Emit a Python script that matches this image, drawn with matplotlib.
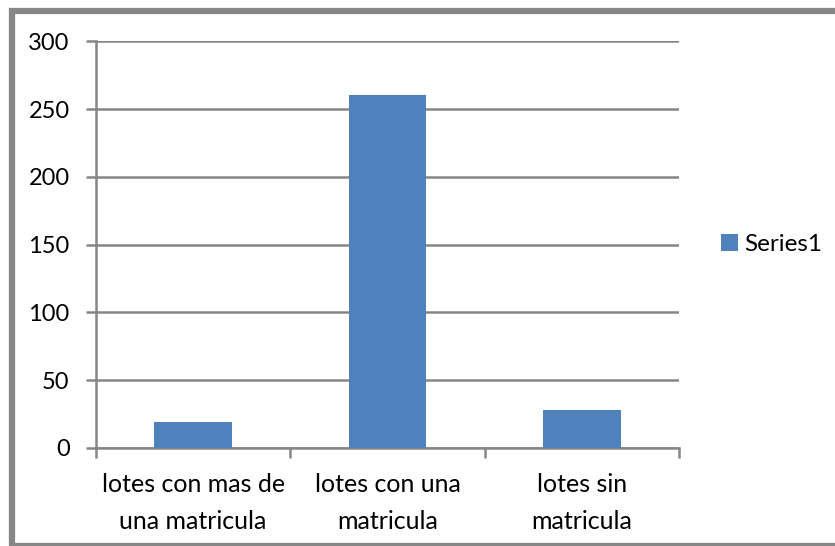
import matplotlib.pyplot as plt
from matplotlib.patches import Rectangle

categories = ["lotes con mas de\nuna matricula", "lotes con una\nmatricula", "lotes sin\nmatricula"]
values = [19, 260, 28]
series_name = "Series1"
yticks = [0, 50, 100, 150, 200, 250, 300]

plt.rcParams['font.family'] = ['Lato', 'DejaVu Sans']
grey = "#868686"
bar_color = "#4f81bd"

fig = plt.figure(figsize=(8.35, 5.46), dpi=100)
ax = fig.add_axes([0.115, 0.1795, 0.698, 0.745])

x = range(len(categories))
ax.bar(x, values, width=0.4, color=bar_color, label=series_name, zorder=3)

ax.set_xlim(-0.5, len(categories) - 0.5)
ax.set_ylim(0, 300)
ax.set_yticks(yticks)
ax.yaxis.grid(True, color=grey, linewidth=1.8, zorder=0)

ax.set_xticks(list(x))
ax.set_xticklabels(categories, fontsize=18, linespacing=1.75)
ax.set_xticks([i - 0.5 for i in range(len(categories) + 1)], minor=True)
ax.tick_params(axis='x', which='major', length=0, pad=18)
ax.tick_params(axis='x', which='minor', length=7, width=1.8, color=grey)
ax.tick_params(axis='y', length=7, width=1.8, color=grey, labelsize=17, pad=12)

for side in ['top', 'right']:
    ax.spines[side].set_visible(False)
for side in ['left', 'bottom']:
    ax.spines[side].set_color(grey)
    ax.spines[side].set_linewidth(1.8)

ax.legend(loc='center left', bbox_to_anchor=(1.035, 0.5), frameon=False,
          fontsize=17.5, handlelength=0.7, handleheight=0.7, handletextpad=0.25)

# outer frame, cut off at right and bottom like the original screenshot
fig.patches.append(Rectangle((0.0138, -0.0005), 1.05, 0.9805, transform=fig.transFigure,
                             fill=False, edgecolor=grey, linewidth=4.5))

fig.savefig("out.png", dpi=100)
